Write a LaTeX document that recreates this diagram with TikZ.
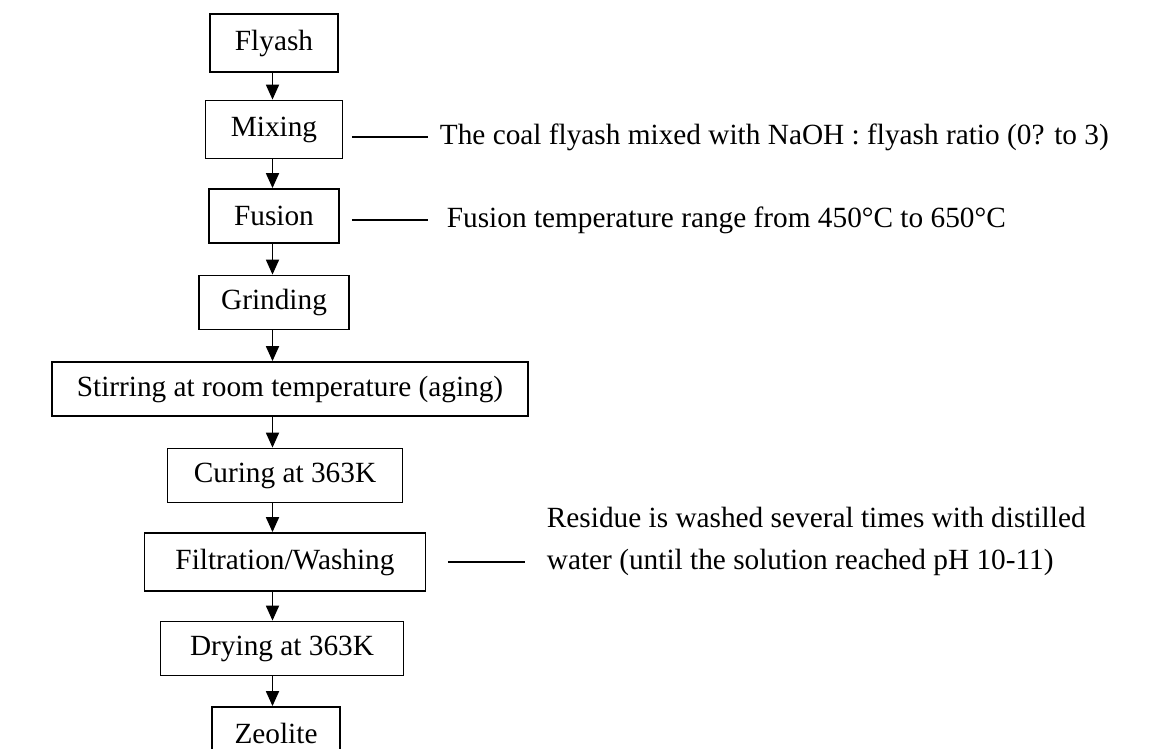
\documentclass[tikz,border=0pt]{standalone}
\usepackage{fontspec}
\setmainfont{Liberation Serif}
\usetikzlibrary{arrows.meta}

\begin{document}
\begin{tikzpicture}
[x=1pt, y=1pt, node distance=86.5pt, line width=1.8pt, font=\fontsize{29.3pt}{42pt}\selectfont]
\tikzstyle{stage}=[rectangle, draw, fill=white, inner sep=0pt, minimum height=54pt]
\tikzstyle{note}=[inner sep=0pt, anchor=west, align=left]
\tikzstyle{flow}=[-{Triangle[length=15pt, width=13pt]}]
\useasboundingbox (0,0) rectangle (1151,-749);

\coordinate (spine) at (272.5,0);
\node[stage]	(Flyash)	at (274,-43)	[minimum width=128pt, minimum height=58pt] {Flyash};
\node[stage]	(Mixing)	[below of=Flyash,	minimum width=137pt, minimum height=58pt] {Mixing};
\node[stage]	(Fusion)	[below of=Mixing,	minimum width=130pt] {Fusion};
\node[stage]	(Grinding)	[below of=Fusion,	minimum width=150pt] {Grinding};
\node[stage]	(Stirring)	[below of=Grinding,	xshift=16pt, minimum width=476pt] {Stirring at room temperature (aging)};
\node[stage]	(Curing)	[below of=Stirring,	xshift=-5pt, minimum width=235pt] {Curing at 363K};
\node[stage]	(Filtration)	[below of=Curing,	minimum width=281pt, minimum height=58pt] {Filtration/Washing};
\node[stage]	(Drying)	[below of=Filtration,	xshift=-3pt, minimum width=243pt] {Drying at 363K};
\node[stage]	(Zeolite)	[below of=Drying,	xshift=-6pt, yshift=2pt, minimum width=128pt, minimum height=52pt] {Zeolite};

\node[note]	(mixnote)	at (439,-137)	{The coal flyash mixed with NaOH : flyash ratio (0? to 3)};
\node[note]	(fusnote)	at (446,-220)	{Fusion temperature range from 450°C to 650°C};
\node[note]	(resnote)	at (546,-541)	{Residue is washed several times with distilled\\water (until the solution reached pH 10-11)};

\draw[flow]	(Flyash.south -| spine) -- (Mixing.north -| spine);
\draw[flow]	(Mixing.south -| spine) -- (Fusion.north -| spine);
\draw[flow]	(Fusion.south -| spine) -- (Grinding.north -| spine);
\draw[flow]	(Grinding.south -| spine) -- (Stirring.north -| spine);
\draw[flow]	(Stirring.south -| spine) -- (Curing.north -| spine);
\draw[flow]	(Curing.south -| spine) -- (Filtration.north -| spine);
\draw[flow]	(Filtration.south -| spine) -- (Drying.north -| spine);
\draw[flow]	(Drying.south -| spine) -- (Zeolite.north -| spine);

\draw[line width=1.2pt, shorten <=8.5pt, shorten >=11pt]	(mixnote.west -| Mixing.east) -- (mixnote.west);
\draw[line width=1.2pt, shorten <=12pt, shorten >=18pt]	(fusnote.west -| Fusion.east) -- (fusnote.west);
\draw[line width=1.2pt, shorten <=21.5pt, shorten >=21pt]	(Filtration.east) -- (Filtration.east -| resnote.west);
\end{tikzpicture}
\end{document}
